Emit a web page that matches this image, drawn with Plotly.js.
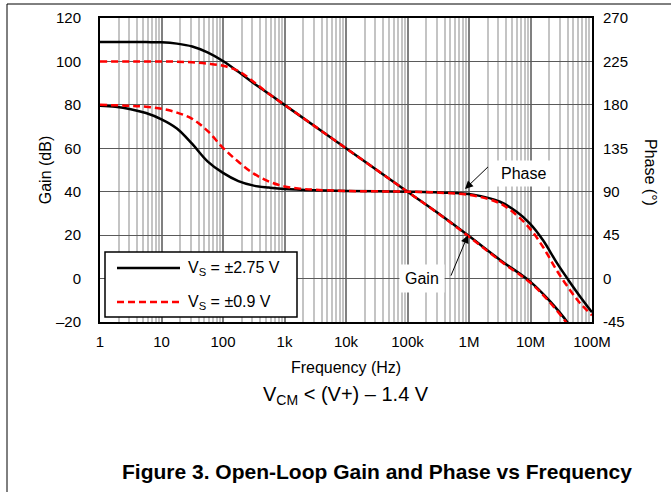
<!DOCTYPE html>
<html>
<head>
<meta charset="utf-8">
<script src="https://cdn.plot.ly/plotly-3.0.1.min.js"></script>
<style>html,body{margin:0;padding:0;background:#fff;}#chart{width:671px;height:492px;}</style>
</head>
<body>
<div id="chart"></div>
<script>
// ---- data ----
const freqTicks = [1, 10, 100, 1e3, 1e4, 1e5, 1e6, 1e7, 1e8];
const freqTickText = ['1', '10', '100', '1k', '10k', '100k', '1M', '10M', '100M'];
const gainTicks = [-20, 0, 20, 40, 60, 80, 100, 120];
const gainTickText = ['\u201320', '0', '20', '40', '60', '80', '100', '120'];
const phaseTicks = [-45, 0, 45, 90, 135, 180, 225, 270];
const phaseTickText = ['-45', '0', '45', '90', '135', '180', '225', '270'];

// Vs = ±2.75 V
const gainFreqA = [1, 3.16, 5.6, 10, 17.8, 31.6, 56, 100, 178, 316, 562, 1000, 1e4, 1e5, 3.37e5, 1e6, 3.2e6, 1e7, 2.07e7, 4.1e7, 6e7];
const gainA = [109, 109, 108.9, 108.8, 108.2, 106.9, 104.2, 100.2, 95.2, 89.9, 85, 80, 60, 40, 29.5, 19.6, 8.6, -1.5, -10.4, -20.6, -28];
const phaseFreqA = [1, 1.78, 3.16, 5.6, 10, 17.8, 31.6, 56, 100, 178, 316, 562, 1000, 3160, 1e4, 1e5, 3.37e5, 1.17e6, 3.19e6, 5.95e6, 9.8e6, 1.6e7, 2.7e7, 4.4e7, 6.3e7, 1e8];
const phaseA = [179, 178, 175.5, 171.5, 165, 155.5, 139.5, 121.5, 109.5, 101, 96.3, 94.3, 92.8, 91.5, 90.8, 90, 89.2, 87, 79.6, 69.2, 57, 39.7, 16, -4, -18, -35];

// Vs = ±0.9 V
const gainFreqB = [1, 3.16, 5.6, 10, 17.8, 31.6, 56, 100, 178, 316, 562, 1000, 1e4, 1e5, 3.37e5, 1e6, 3.2e6, 1e7, 2.07e7, 4.1e7, 6e7];
const gainB = [100, 100, 100, 100, 99.9, 99.6, 99, 98, 95.6, 90.5, 85, 80, 60, 40, 29.4, 19.3, 8.2, -2, -11, -21.5, -29];
const phaseFreqB = [1, 3.16, 5.6, 10, 17.8, 31.6, 56, 100, 178, 316, 562, 1000, 1780, 3160, 1e4, 1e5, 3.37e5, 1.17e6, 3.19e6, 5.95e6, 9.8e6, 1.6e7, 2.7e7, 4.4e7, 6.3e7, 1e8];
const phaseB = [180, 179, 178, 176, 172, 165.5, 153, 135.5, 121, 108.7, 100.5, 95.5, 93.2, 92, 90.8, 90, 89, 86, 77.9, 65.7, 51.8, 32.7, 8, -12, -25, -38];

const seriesNames = ['V<sub>S</sub> = \u00b12.75 V', 'V<sub>S</sub> = \u00b10.9 V'];

// ---- helpers (positions only) ----
const L = 100, R = 592, T = 18, B = 322;
const px = x => (x - L) / (R - L);
const py = y => (B - y) / (B - T);
const minorVals = [];
for (let d = 0; d < 8; d++) for (let k = 2; k <= 9; k++) minorVals.push(k * Math.pow(10, d));

const FONT = 'Liberation Sans, Arial, Helvetica, sans-serif';
const black = '#000000', red = '#ff0000';
const lineA = {color: black, width: 2.5, shape: 'spline', smoothing: 1};
const lineB = {color: red, width: 2.5, dash: '7px,4px', shape: 'spline', smoothing: 1};

const traces = [
  {x: gainFreqA, y: gainA, yaxis: 'y', name: seriesNames[0], mode: 'lines', line: lineA},
  {x: phaseFreqA, y: phaseA, yaxis: 'y2', name: seriesNames[0], mode: 'lines', line: lineA},
  {x: gainFreqB, y: gainB, yaxis: 'y', name: seriesNames[1], mode: 'lines', line: lineB},
  {x: phaseFreqB, y: phaseB, yaxis: 'y2', name: seriesNames[1], mode: 'lines', line: lineB}
];

function note(x, y, text, size, extra) {
  return Object.assign({xref: 'paper', yref: 'paper', x: px(x), y: py(y), xanchor: 'center', yanchor: 'middle',
    text: text, showarrow: false, font: {size: size}}, extra || {});
}

const layout = {
  width: 671, height: 492,
  margin: {l: L, r: 671 - R, t: T, b: 492 - B},
  paper_bgcolor: '#fff', plot_bgcolor: '#fff',
  font: {family: FONT, size: 15, color: '#000'},
  showlegend: false,
  xaxis: {
    type: 'log', range: [0, 8],
    tickmode: 'array', tickvals: freqTicks, ticktext: freqTickText,
    ticks: '', ticklabelstandoff: 5,
    showgrid: true, gridcolor: '#808080', gridwidth: 2,
    minor: {tickmode: 'array', tickvals: minorVals, showgrid: true, gridcolor: '#c4c4c4', gridwidth: 2, ticks: ''},
    showline: true, linecolor: '#000', linewidth: 2, mirror: true,
    zeroline: false,
    title: {text: 'Frequency (Hz)', font: {size: 16}, standoff: 13},
    tickfont: {size: 15}
  },
  yaxis: {
    range: [-20, 120],
    tickmode: 'array', tickvals: gainTicks, ticktext: gainTickText,
    ticks: '', ticklabelstandoff: 14,
    showgrid: true, gridcolor: '#5a5a5a', gridwidth: 1,
    showline: true, linecolor: '#000', linewidth: 2, mirror: true,
    zeroline: false,
    title: {text: 'Gain (dB)', font: {size: 16}, standoff: 0},
    tickfont: {size: 15}
  },
  yaxis2: {
    overlaying: 'y', side: 'right', range: [-45, 270],
    tickmode: 'array', tickvals: phaseTicks, ticktext: phaseTickText,
    ticks: '', ticklabelstandoff: 10,
    showgrid: false,
    minor: {tickmode: 'array', tickvals: [0, 90, 180], showgrid: true, gridcolor: '#000', gridwidth: 1, ticks: ''},
    showline: false, zeroline: false,
    tickfont: {size: 15}
  },
  shapes: [
    // page frame lines
    {type: 'line', xref: 'paper', yref: 'paper', x0: px(7), x1: px(671), y0: py(4), y1: py(4), line: {color: '#000', width: 1}},
    {type: 'line', xref: 'paper', yref: 'paper', x0: px(7), x1: px(7), y0: py(4), y1: py(492), line: {color: '#000', width: 1}},
    // legend box
    {type: 'rect', xref: 'paper', yref: 'paper', x0: px(105), x1: px(297), y0: py(252), y1: py(317), fillcolor: '#fff', line: {color: '#000', width: 1.5}, layer: 'above'},
    {type: 'line', xref: 'paper', yref: 'paper', x0: px(117), x1: px(180), y0: py(268), y1: py(268), line: {color: black, width: 2.5}, layer: 'above'},
    {type: 'line', xref: 'paper', yref: 'paper', x0: px(117), x1: px(180), y0: py(302), y1: py(302), line: {color: red, width: 2.5, dash: '7px,4px'}, layer: 'above'}
  ],
  annotations: [
    note(186, 268, seriesNames[0], 16, {xanchor: 'left'}),
    note(186, 302, seriesNames[1], 16, {xanchor: 'left'}),
    // right axis title
    note(651, 172, 'Phase (\u00b0)', 16, {textangle: 90}),
    // Phase label + arrow
    note(523, 174, 'Phase', 16, {bgcolor: '#fff', borderpad: 4}),
    {xref: 'x', yref: 'y2', x: Math.log10(8.6e5), y: 92.8, ax: 25, ay: -24, text: ' ', font: {size: 2}, showarrow: true, arrowhead: 2, arrowsize: 1.6, arrowwidth: 1, arrowcolor: '#000', standoff: 0},
    // Gain label + arrow
    note(422, 278, 'Gain', 16, {bgcolor: '#fff', borderpad: 5}),
    {xref: 'x', yref: 'y', x: Math.log10(9.6e5), y: 20, ax: -18, ay: 43, text: ' ', font: {size: 2}, showarrow: true, arrowhead: 2, arrowsize: 1.6, arrowwidth: 1, arrowcolor: '#000', standoff: 0},
    // condition line
    note(346, 395, 'V<sub>CM</sub> < (V+) \u2013 1.4 V', 20),
    // figure caption
    note(377, 471, '<b>Figure 3. Open-Loop Gain and Phase vs Frequency</b>', 21)
  ]
};

Plotly.newPlot('chart', traces, layout, {displayModeBar: false, staticPlot: true});
</script>
</body>
</html>
